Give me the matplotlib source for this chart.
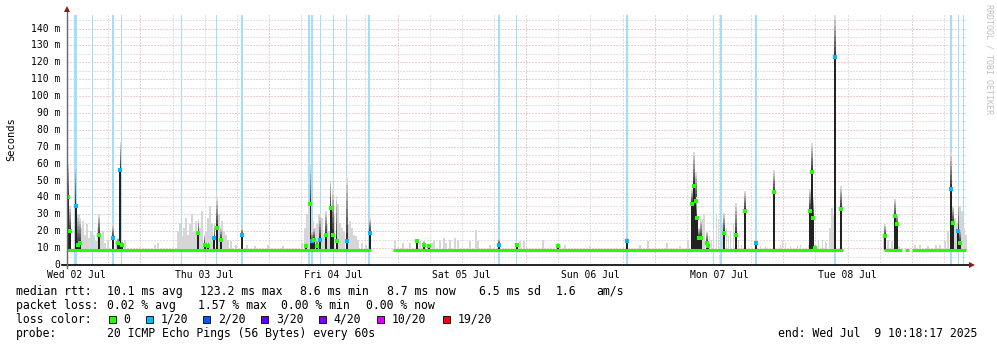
import numpy as np
import matplotlib
matplotlib.use('Agg')
import matplotlib.pyplot as plt
import matplotlib.transforms as mtrans

# time axis: hours since Wed 02 Jul 00:00
t_start = 10.3
t_end = 178.3

# loss periods (1/20) -> light blue full-height bars
loss_h = [11.85, 15.02, 18.89, 20.44, 31.64, 38.17, 42.93, 55.50, 56.00, 57.53, 60.05, 62.44,
          66.72, 90.94, 94.17, 114.78, 130.94, 132.35, 138.91, 153.66, 175.32, 176.72, 177.65]
loss_w = [0.63, 0.19, 0.30, 0.19, 0.19, 0.19, 0.30, 0.30, 0.30, 0.19, 0.30, 0.19,
          0.30, 0.37, 0.19, 0.30, 0.19, 0.30, 0.37, 0.19, 0.25, 0.30, 0.30]

# light smoke (spread of pings), ms
smoke_h = [12.54, 12.91, 13.29, 13.66, 14.03, 14.41, 14.78, 15.34, 15.71, 16.09, 16.65, 17.02,
           17.39, 17.95, 19.45, 21.13, 26.73, 27.29,
           31.02, 31.39, 31.77, 32.14, 32.51, 32.89, 33.26, 33.63, 34.01, 34.38, 35.13, 35.50,
           36.25, 36.62, 36.99, 37.37, 38.67, 39.23, 39.61, 39.98, 40.35, 40.91, 41.85, 43.90,
           45.39, 47.82, 50.62, 54.17, 54.73, 55.10, 55.47, 56.22, 56.59, 56.97, 57.34, 57.90,
           58.27, 58.83, 59.21, 60.14, 60.89, 61.26, 61.63, 62.01, 62.75, 63.13, 63.50, 63.87,
           64.25, 64.62, 65.37, 66.11,
           71.53, 73.02, 74.33, 76.19, 78.43, 78.81, 79.93, 80.67, 81.05, 81.79, 82.73, 83.29,
           85.53, 86.65, 87.02, 89.26, 94.86, 95.61, 99.15, 102.33, 103.26, 107.93, 117.26,
           118.75, 122.30,
           124.73, 126.22, 128.83, 129.21, 130.15, 130.52, 130.90, 131.46, 131.83, 132.58,
           133.33, 133.70, 134.07, 134.63, 135.57, 136.13, 139.67, 140.61, 143.41, 143.78,
           144.34, 145.27, 146.58, 147.15, 148.64, 150.51, 151.26, 151.81,
           151.98, 152.73, 153.10, 153.47, 162.81, 163.55, 164.30, 165.61, 168.59, 169.53,
           171.02, 172.51, 173.26, 174.19, 174.75, 176.06, 176.43, 176.99, 177.37, 177.74, 178.11]
smoke_top = [30, 22, 26, 18, 24, 16, 20, 18, 14, 22, 17, 20,
             13, 15, 14, 15, 12, 13,
             20, 25, 17, 22, 28, 18, 24, 30, 20, 26, 22, 32,
             20, 28, 35, 24, 30, 26, 20, 18, 15, 14, 12, 12,
             11, 12, 11, 13, 22, 30, 38, 26, 22, 24, 30, 28,
             18, 24, 20, 30, 36, 25, 22, 20, 24, 26, 22, 18,
             17, 15, 13, 12,
             15, 13, 13, 14, 13, 14, 15, 16, 13, 15, 16, 15,
             14, 21, 14, 12, 14, 14, 15, 12, 12, 11, 12,
             14, 13,
             11, 14, 27, 30, 17, 15, 22, 30, 27, 25,
             22, 17, 20, 25, 15, 12, 11, 11, 12, 14,
             13, 11, 11, 12, 12, 14, 15, 14,
             13, 22, 34, 30, 18, 15, 14, 11, 12, 12,
             11, 12, 12, 14, 20, 28, 25, 35, 32, 22, 18]

# dense spikes: time, median rtt, top of smoke, loss (0 = none, 1 = 1/20)
spike_h = [10.49, 10.86, 11.92, 12.35, 12.73, 16.27, 18.83, 19.82, 20.25, 20.51,
           34.81, 36.00, 36.68, 37.80, 38.30, 39.05, 42.91,
           54.91, 55.75, 56.03, 56.41, 56.91, 57.53, 58.65, 59.52, 59.90, 60.64, 62.51, 66.86,
           75.69, 76.94, 77.82, 90.94, 94.36, 101.90, 114.78,
           127.02, 127.34, 127.66, 127.84, 128.27, 128.59, 129.71, 130.01, 132.94, 135.18,
           136.86, 138.91, 142.27, 148.99, 149.31, 149.61, 149.93,
           153.66, 154.73, 163.00, 164.86, 165.18, 175.26, 175.63, 176.68, 177.00]
spike_med = [40, 20, 35, 12, 13, 18, 16, 13, 56, 12,
             19, 12, 11, 16, 22, 15, 18,
             11, 36, 14, 15, 11, 15, 18, 34, 18, 14, 14, 19,
             14, 12, 11, 12, 12, 11, 14,
             36, 47, 38, 28, 16, 16, 13, 11, 19, 18,
             32, 13, 43, 32, 55, 28, 10,
             123, 33, 17, 29, 24, 45, 25, 20, 13]
spike_top = [60, 35, 60, 30, 28, 30, 24, 16, 73, 14,
             27, 18, 14, 24, 40, 22, 22,
             13, 59, 20, 22, 15, 30, 32, 50, 45, 41, 52, 28,
             15, 14, 12, 16, 13, 13, 16,
             45, 67, 55, 40, 22, 27, 20, 13, 31, 37,
             44, 15, 56, 45, 72, 40, 12,
             148, 47, 24, 39, 30, 67, 35, 38, 22]
spike_loss = [0, 0, 1, 0, 0, 0, 1, 0, 1, 0,
              0, 0, 0, 1, 0, 0, 1,
              0, 0, 1, 0, 0, 1, 0, 0, 0, 0, 1, 1,
              0, 0, 0, 1, 0, 0, 1,
              0, 0, 0, 0, 0, 0, 0, 0, 0, 0,
              0, 1, 0, 0, 0, 0, 0,
              1, 0, 0, 0, 0, 1, 0, 1, 0]

# median line segments (data present)
median_val = 8.7
seg_start = [10.3, 71.15, 162.81, 166.73, 168.03]
seg_end = [67.05, 155.16, 166.17, 167.47, 178.12]

day_labels = ['Wed 02 Jul', 'Thu 03 Jul', 'Fri 04 Jul', 'Sat 05 Jul',
              'Sun 06 Jul', 'Mon 07 Jul', 'Tue 08 Jul']
y_labels = ['0', '10 m', '20 m', '30 m', '40 m', '50 m', '60 m', '70 m',
            '80 m', '90 m', '100 m', '110 m', '120 m', '130 m', '140 m']

loss_names = ['0', '1/20', '2/20', '3/20', '4/20', '10/20', '19/20']
loss_cols = ['#26ff00', '#00b8ff', '#0059ff', '#5e00ff', '#7e00ff', '#dd00ff', '#ff0000']

mono = 'DejaVu Sans Mono'
W, H = 997, 347

fig = plt.figure(figsize=(W / 100, H / 100), dpi=100)
fig.patch.set_facecolor('white')
ax = fig.add_axes([67 / W, 82 / H, 900 / W, 250 / H])
ax.set_xlim(t_start, t_end)
ax.set_ylim(0, 148)
ax.axis('off')

dot = dict(linestyle=(0, (1, 2)), lw=0.72)
# grid
for v in range(5, 148, 5):
    if v % 10:
        ax.axhline(v, color='#c4c4c4', zorder=0, **dot)
for v in range(10, 148, 10):
    ax.axhline(v, color='#dfa0a0', zorder=0, **dot)
for v in np.arange(12, t_end, 6):
    if v % 24:
        ax.axvline(v, color='#c4c4c4', zorder=0, **dot)
for v in np.arange(24, t_end, 24):
    ax.axvline(v, color='#dfa0a0', zorder=0, **dot)

# loss background
ax.bar(loss_h, 148, width=loss_w, bottom=0, color='#a3e0f8', lw=0, zorder=1)

# light smoke
sh = np.array(smoke_top) - median_val
ax.bar(smoke_h, sh, width=0.2, bottom=median_val, color='#d6d6d6', lw=0, zorder=2)

# dense spikes: dark body + fading smoke above
n = 8
for h, m, tp, ls in zip(spike_h, spike_med, spike_top, spike_loss):
    ax.bar(h, m - median_val, width=0.32, bottom=median_val, color='#222222', lw=0, zorder=3)
    edges = np.linspace(m, tp, n + 1)
    for i in range(n):
        g = 0.2 + 0.65 * i / (n - 1)
        ax.bar(h, edges[i + 1] - edges[i], width=0.3, bottom=edges[i],
               color=(g, g, g), lw=0, zorder=3)
    ax.plot(h, m, 's', ms=2.2, mew=0, color=loss_cols[ls], zorder=5)

# median line
ax.hlines([median_val] * len(seg_start), seg_start, seg_end, color='#26ff00',
          lw=2.2, zorder=4)

# axes lines + arrows
ax.plot([t_start - 0.9, t_end + 0.3], [0, 0], color='black', lw=1.2, clip_on=False, zorder=6)
ax.plot([t_start, t_start], [-2, 150], color='#666666', lw=1.0, clip_on=False, zorder=6)
ax.plot(t_end + 0.9, 0, marker='>', ms=5, color='#8b1a1a', mew=0, clip_on=False, zorder=7)
ax.plot(t_start, 151.5, marker='^', ms=5, color='#8b1a1a', mew=0, clip_on=False, zorder=7)

# tick labels
ty = mtrans.blended_transform_factory(fig.transFigure, ax.transData)
for i, lab in enumerate(y_labels):
    ax.text(60.5 / W, i * 10, lab, transform=ty, ha='right', va='center',
            family=mono, fontsize=7)
tx = mtrans.blended_transform_factory(ax.transData, fig.transFigure)
for i, lab in enumerate(day_labels):
    ax.text(12 + 24 * i, 1 - 275 / H, lab, transform=tx, ha='center', va='center',
            family=mono, fontsize=7)

def ftext(x, y, s, **kw):
    fig.text(x / W, 1 - y / H, s, family=mono, va='center', **kw)

ftext(11, 139, 'Seconds', fontsize=7.5, rotation=90, ha='center')
fig.text(988.5 / W, 1 - 4 / H, 'RRDTOOL / TOBI OETIKER', family=mono, fontsize=6,
         rotation=270, ha='center', va='top', color='#c0c0c0')

fs = 8.3
r1, r2, r3, r4 = 291.5, 305.3, 319.3, 333.3
ftext(16, r1, 'median rtt:', fontsize=fs)
for x, s in zip([107, 200, 300, 387, 479, 556, 596],
                ['10.1 ms avg', '123.2 ms max', '8.6 ms min', '8.7 ms now', '6.5 ms sd', '1.6', 'am/s']):
    ftext(x, r1, s, fontsize=fs)
ftext(16, r2, 'packet loss:', fontsize=fs)
for x, s in zip([107, 198, 281, 366],
                ['0.02 % avg', '1.57 % max', '0.00 % min', '0.00 % now']):
    ftext(x, r2, s, fontsize=fs)
ftext(16, r3, 'loss color:', fontsize=fs)
sq_x = [108.7, 145.7, 203.3, 261.3, 319.3, 376.7, 442.7]
for x, s, c in zip(sq_x, loss_names, loss_cols):
    fig.patches.append(plt.Rectangle((x / W, 1 - (r3 + 3.5) / H), 7 / W, 7 / H,
                                     transform=fig.transFigure, facecolor=c,
                                     edgecolor='black', lw=0.6))
    ftext(x + 14.6, r3, s, fontsize=fs)
ftext(16, r4, 'probe:', fontsize=fs)
ftext(107, r4, '20 ICMP Echo Pings (56 Bytes) every 60s', fontsize=fs)
ftext(778, r4, 'end: Wed Jul  9 10:18:17 2025', fontsize=fs)

fig.savefig('out.png', dpi=100, facecolor='white')
